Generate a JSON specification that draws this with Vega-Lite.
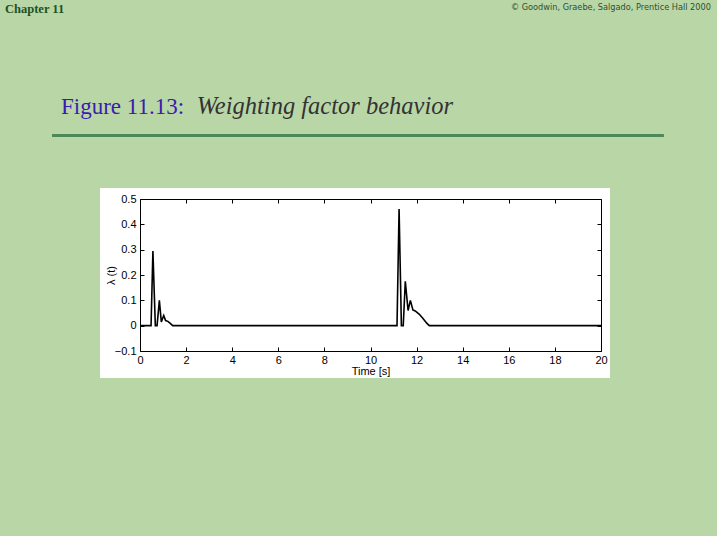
{
  "$schema": "https://vega.github.io/schema/vega-lite/v6.json",
  "autosize": "none",
  "width": 461,
  "height": 152,
  "padding": {"left": 140, "top": 199, "right": 116, "bottom": 185},
  "background": "#b9d6a7",
  "view": {"stroke": null},
  "config": {
    "axis": {"labelFont": "Liberation Sans", "labelFontSize": 11, "labelColor": "#000", "titleFont": "Liberation Sans", "titleFontSize": 11, "titleFontWeight": "normal", "titleColor": "#000", "domainColor": "#000", "tickColor": "#000", "domainWidth": 1, "tickWidth": 1, "grid": false}
  },
  "datasets": {
    "series": [
      {"t": 0, "v": 0}, {"t": 0.48, "v": 0}, {"t": 0.56, "v": 0.295}, {"t": 0.665, "v": 0}, {"t": 0.74, "v": 0},
      {"t": 0.84, "v": 0.1}, {"t": 0.925, "v": 0.015}, {"t": 1.03, "v": 0.04}, {"t": 1.11, "v": 0.02},
      {"t": 1.21, "v": 0.017}, {"t": 1.3, "v": 0.01}, {"t": 1.42, "v": 0},
      {"t": 11.15, "v": 0}, {"t": 11.24, "v": 0.46}, {"t": 11.34, "v": 0}, {"t": 11.42, "v": 0},
      {"t": 11.51, "v": 0.175}, {"t": 11.63, "v": 0.06}, {"t": 11.73, "v": 0.1}, {"t": 11.84, "v": 0.062},
      {"t": 11.94, "v": 0.058}, {"t": 12.12, "v": 0.045}, {"t": 12.26, "v": 0.03}, {"t": 12.44, "v": 0.01},
      {"t": 12.55, "v": 0}, {"t": 20, "v": 0}
    ],
    "panel": [{"t": -1.735, "t2": 20.39, "v": -0.2066, "v2": 0.543}],
    "rule": [{"t": -3.818, "t2": 22.73, "v": 0.7507}],
    "labels": [
      {"t": -5.857, "v": 1.2354, "label": "Chapter 11", "kind": "chapter"},
      {"t": 24.77, "v": 1.245, "label": "© Goodwin, Graebe, Salgado, Prentice Hall 2000", "kind": "copy"},
      {"t": -3.427, "v": 0.8375, "label": "Figure 11.13:", "kind": "fig"},
      {"t": 2.46, "v": 0.8375, "label": "Weighting factor behavior", "kind": "sub"}
    ]
  },
  "resolve": {"axis": {"x": "independent", "y": "independent"}},
  "layer": [
    {
      "data": {"name": "panel"},
      "mark": {"type": "rect", "fill": "#ffffff", "clip": false},
      "encoding": {
        "x": {"field": "t", "type": "quantitative", "scale": {"domain": [0, 20], "nice": false, "zero": false}, "axis": {"orient": "top", "zindex": 2, "labels": false, "title": null, "values": [0,2,4,6,8,10,12,14,16,18,20], "tickSize": -4}},
        "x2": {"field": "t2"},
        "y": {"field": "v", "type": "quantitative", "scale": {"domain": [-0.1, 0.5], "nice": false, "zero": false}, "axis": {"orient": "right", "zindex": 2, "labels": false, "title": null, "values": [-0.1,0,0.1,0.2,0.3,0.4,0.5], "tickSize": -4}},
        "y2": {"field": "v2"}
      }
    },
    {
      "data": {"name": "series"},
      "mark": {"type": "line", "color": "#000000", "strokeWidth": 1.6},
      "encoding": {
        "x": {"field": "t", "type": "quantitative", "axis": {"orient": "bottom", "zindex": 2, "title": "Time [s]", "values": [0,2,4,6,8,10,12,14,16,18,20], "tickSize": -4, "labelPadding": 7, "titlePadding": 0, "labelFlush": false}},
        "y": {"field": "v", "type": "quantitative", "axis": {"orient": "left", "zindex": 2, "title": "λ (t)", "values": [-0.1,0,0.1,0.2,0.3,0.4,0.5], "tickSize": -4, "labelPadding": 8, "titlePadding": -2, "format": ".1~f", "labelFlush": false}}
      }
    },
    {
      "data": {"name": "rule"},
      "mark": {"type": "rule", "color": "#4c8858", "strokeWidth": 3, "clip": false},
      "encoding": {
        "x": {"field": "t", "type": "quantitative", "axis": null},
        "x2": {"field": "t2"},
        "y": {"field": "v", "type": "quantitative", "axis": null}
      }
    },
    {
      "data": {"name": "labels"},
      "transform": [{"filter": "datum.kind == 'chapter'"}],
      "mark": {"type": "text", "align": "left", "baseline": "alphabetic", "font": "Liberation Serif", "fontSize": 12.5, "fontWeight": "bold", "color": "#1d531f", "clip": false},
      "encoding": {
        "x": {"field": "t", "type": "quantitative", "axis": null},
        "y": {"field": "v", "type": "quantitative", "axis": null},
        "text": {"field": "label"}
      }
    },
    {
      "data": {"name": "labels"},
      "transform": [{"filter": "datum.kind == 'copy'"}],
      "mark": {"type": "text", "align": "right", "baseline": "alphabetic", "font": "DejaVu Sans", "fontSize": 8.2, "color": "#2f4f2f", "clip": false},
      "encoding": {
        "x": {"field": "t", "type": "quantitative", "axis": null},
        "y": {"field": "v", "type": "quantitative", "axis": null},
        "text": {"field": "label"}
      }
    },
    {
      "data": {"name": "labels"},
      "transform": [{"filter": "datum.kind == 'fig'"}],
      "mark": {"type": "text", "align": "left", "baseline": "alphabetic", "font": "Liberation Serif", "fontSize": 23, "color": "#3b1bb0", "clip": false},
      "encoding": {
        "x": {"field": "t", "type": "quantitative", "axis": null},
        "y": {"field": "v", "type": "quantitative", "axis": null},
        "text": {"field": "label"}
      }
    },
    {
      "data": {"name": "labels"},
      "transform": [{"filter": "datum.kind == 'sub'"}],
      "mark": {"type": "text", "align": "left", "baseline": "alphabetic", "font": "Liberation Serif", "fontSize": 24.5, "fontStyle": "italic", "color": "#333333", "clip": false},
      "encoding": {
        "x": {"field": "t", "type": "quantitative", "axis": null},
        "y": {"field": "v", "type": "quantitative", "axis": null},
        "text": {"field": "label"}
      }
    }
  ]
}
